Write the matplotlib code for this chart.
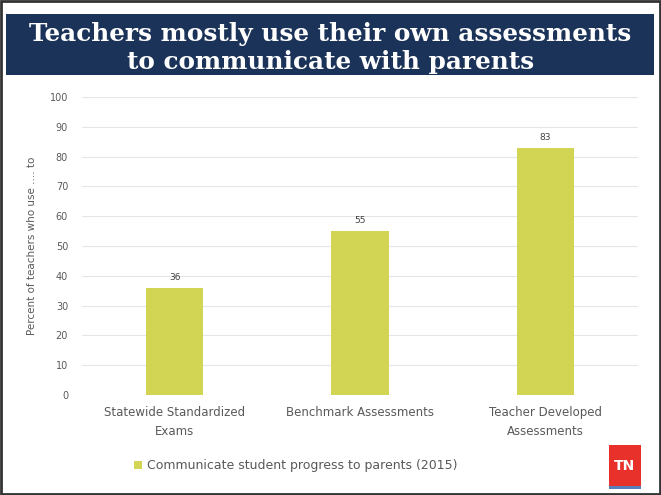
import matplotlib.pyplot as plt
from matplotlib.patches import Rectangle
import numpy as np

categories = ['Statewide Standardized\nExams', 'Benchmark Assessments', 'Teacher Developed\nAssessments']
values = [36, 55, 83]
series_name = 'Communicate student progress to parents (2015)'
title = 'Teachers mostly use their own assessments\nto communicate with parents'
ylabel = 'Percent of teachers who use .... to'

W, H = 661, 495
fig = plt.figure(figsize=(W / 100, H / 100), dpi=100)
fig.patch.set_facecolor('white')

# outer frame
fig.patches.append(Rectangle((0.002, 0.002), 0.996, 0.996, transform=fig.transFigure,
                             fill=False, edgecolor='#333333', linewidth=2))
# title banner
fig.patches.append(Rectangle((6 / W, 1 - 75 / H), 648 / W, 61 / H, transform=fig.transFigure,
                             facecolor='#1b3358', edgecolor='none'))
fig.text(0.5, 1 - 48 / H, title, ha='center', va='center', color='white',
         fontsize=17.8, fontweight='bold', family='DejaVu Serif', linespacing=1.25)

ax = fig.add_axes([82 / W, 1 - 395 / H, 556 / W, 298 / H])
x = np.arange(len(categories))
bars = ax.bar(x, values, width=0.31, color='#d2d454', zorder=3)
for xi, v in zip(x, values):
    ax.text(xi, v + 2, str(v), ha='center', va='bottom', fontsize=6.5, color='#404040')

ax.set_xlim(-0.5, 2.5)
ax.set_ylim(0, 100)
ax.set_yticks(range(0, 101, 10))
ax.yaxis.grid(True, color='#e6e6e6', linewidth=0.8, zorder=0)
for s in ax.spines.values():
    s.set_visible(False)
ax.tick_params(axis='both', length=0, colors='#595959', labelsize=7)
ax.tick_params(axis='y', pad=10)
ax.set_xticks(x)
ax.set_xticklabels(categories, fontsize=8.5, color='#595959', linespacing=1.6)
ax.tick_params(axis='x', pad=8)
ax.set_ylabel(ylabel, fontsize=7.5, color='#595959', labelpad=9)

# legend
fig.patches.append(Rectangle((134 / W, 1 - 469 / H), 8 / W, 8 / H, transform=fig.transFigure,
                             facecolor='#d2d454', edgecolor='none'))
fig.text(147 / W, 1 - 465 / H, series_name, ha='left', va='center', fontsize=9, color='#595959')

# TN logo
fig.patches.append(Rectangle((609 / W, 1 - 486 / H), 32 / W, 41 / H, transform=fig.transFigure,
                             facecolor='#e8312a', edgecolor='none'))
fig.patches.append(Rectangle((609 / W, 1 - 489 / H), 32 / W, 3 / H, transform=fig.transFigure,
                             facecolor='#5a7fb8', edgecolor='none'))
fig.text(625 / W, 1 - 466 / H, 'TN', ha='center', va='center', fontsize=10, color='white',
         fontweight='bold')

fig.savefig('out.png', dpi=100)
